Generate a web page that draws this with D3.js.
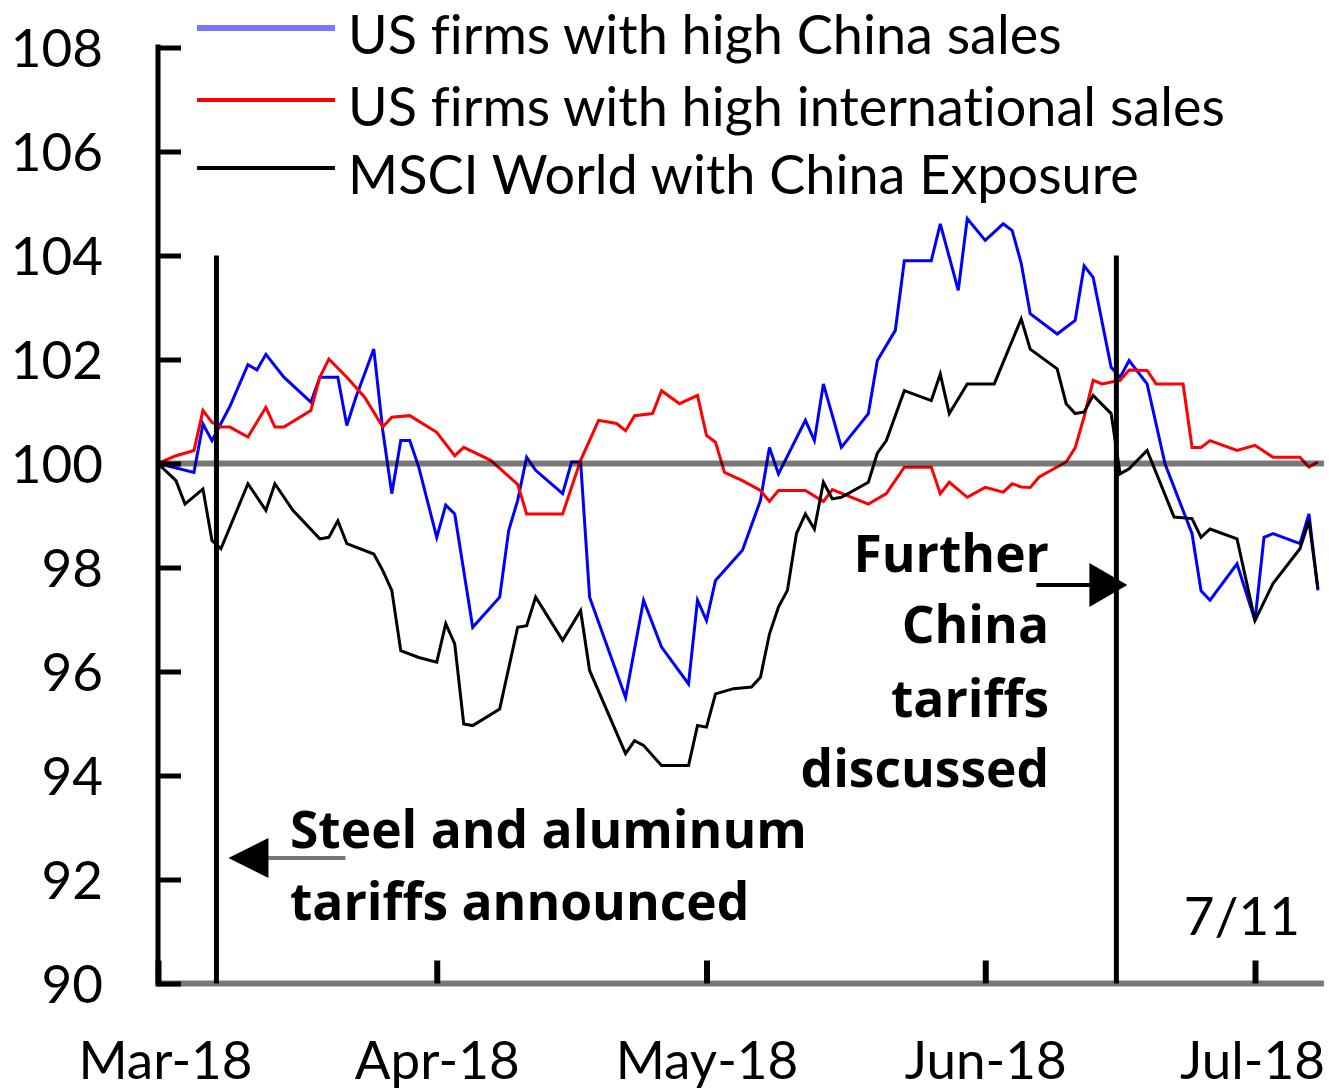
<!DOCTYPE html>
<html>
<head>
<meta charset="utf-8">
<script src="https://cdnjs.cloudflare.com/ajax/libs/d3/7.8.5/d3.min.js"></script>
<style>
  body { margin: 0; background: #fff; }
  svg { display: block; }
  text { font-family: Lato, "Open Sans", sans-serif; fill: #000; font-variant-ligatures: none; }
</style>
</head>
<body>
<svg id="chart" width="1329" height="1092"></svg>
<script>
// series: [date, index level]
var chinaSales = [
  ["2018-03-01",100.0],["2018-03-05",99.83],["2018-03-06",100.76],["2018-03-07",100.44],
  ["2018-03-09",101.1],["2018-03-11",101.9],["2018-03-12",101.8],["2018-03-13",102.1],
  ["2018-03-15",101.66],["2018-03-18",101.18],["2018-03-19",101.66],["2018-03-21",101.66],
  ["2018-03-22",100.73],["2018-03-23",101.27],["2018-03-25",102.2],["2018-03-26",100.63],
  ["2018-03-27",99.42],["2018-03-28",100.44],["2018-03-29",100.44],["2018-03-30",99.93],
  ["2018-04-01",98.58],["2018-04-02",99.2],["2018-04-03",99.03],["2018-04-05",96.85],
  ["2018-04-08",97.43],["2018-04-09",98.71],["2018-04-10",99.29],["2018-04-11",100.12],
  ["2018-04-12",99.87],["2018-04-15",99.42],["2018-04-16",100.03],["2018-04-17",100.03],
  ["2018-04-18",97.43],["2018-04-22",95.5],["2018-04-24",97.37],["2018-04-26",96.47],
  ["2018-04-29",95.76],["2018-04-30",97.37],["2018-05-01",96.98],["2018-05-02",97.75],
  ["2018-05-05",98.33],["2018-05-07",99.29],["2018-05-08",100.31],["2018-05-09",99.8],
  ["2018-05-12",100.83],["2018-05-13",100.44],["2018-05-14",101.53],["2018-05-16",100.31],
  ["2018-05-19",100.96],["2018-05-20",101.98],["2018-05-22",102.56],["2018-05-23",103.9],
  ["2018-05-26",103.9],["2018-05-27",104.61],["2018-05-29",103.33],["2018-05-30",104.71],
  ["2018-06-01",104.29],["2018-06-03",104.61],["2018-06-04",104.48],["2018-06-05",103.85],
  ["2018-06-06",102.88],["2018-06-09",102.49],["2018-06-11",102.75],["2018-06-12",103.8],
  ["2018-06-13",103.58],["2018-06-15",101.85],["2018-06-16",101.66],["2018-06-17",101.98],
  ["2018-06-19",101.53],["2018-06-21",99.99],["2018-06-24",98.65],["2018-06-25",97.55],
  ["2018-06-26",97.37],["2018-06-29",98.07],["2018-07-01",96.98],["2018-07-02",98.58],
  ["2018-07-03",98.65],["2018-07-06",98.46],["2018-07-07",99.03],["2018-07-08",97.56]
];
var intlSales = [
  ["2018-03-01",100.0],["2018-03-03",100.15],["2018-03-05",100.25],["2018-03-06",101.02],
  ["2018-03-07",100.79],["2018-03-08",100.7],["2018-03-09",100.7],["2018-03-11",100.51],
  ["2018-03-13",101.08],["2018-03-14",100.7],["2018-03-15",100.7],["2018-03-18",101.02],
  ["2018-03-19",101.66],["2018-03-20",102.01],["2018-03-22",101.66],["2018-03-24",101.27],
  ["2018-03-26",100.7],["2018-03-27",100.89],["2018-03-29",100.92],["2018-04-01",100.6],
  ["2018-04-03",100.15],["2018-04-04",100.31],["2018-04-07",100.06],["2018-04-10",99.6],
  ["2018-04-11",99.03],["2018-04-15",99.03],["2018-04-17",100.06],["2018-04-19",100.83],
  ["2018-04-21",100.77],["2018-04-22",100.63],["2018-04-23",100.92],["2018-04-25",100.96],
  ["2018-04-26",101.4],["2018-04-28",101.15],["2018-04-30",101.31],["2018-05-01",100.54],
  ["2018-05-02",100.41],["2018-05-03",99.83],["2018-05-05",99.67],["2018-05-07",99.48],
  ["2018-05-08",99.27],["2018-05-09",99.48],["2018-05-12",99.48],["2018-05-14",99.27],
  ["2018-05-15",99.5],["2018-05-19",99.22],["2018-05-21",99.42],["2018-05-23",99.93],
  ["2018-05-26",99.93],["2018-05-27",99.42],["2018-05-28",99.64],["2018-05-30",99.35],
  ["2018-06-01",99.54],["2018-06-03",99.45],["2018-06-04",99.61],["2018-06-05",99.55],
  ["2018-06-06",99.54],["2018-06-07",99.74],["2018-06-10",100.03],["2018-06-11",100.3],
  ["2018-06-12",100.9],["2018-06-13",101.6],["2018-06-14",101.53],["2018-06-16",101.6],
  ["2018-06-17",101.8],["2018-06-19",101.79],["2018-06-20",101.53],["2018-06-23",101.53],
  ["2018-06-24",100.31],["2018-06-25",100.31],["2018-06-26",100.44],["2018-06-29",100.25],
  ["2018-07-01",100.35],["2018-07-03",100.12],["2018-07-06",100.12],["2018-07-07",99.93],
  ["2018-07-08",100.03]
];
var msciChina = [
  ["2018-03-01",100.0],["2018-03-03",99.67],["2018-03-04",99.22],["2018-03-06",99.51],
  ["2018-03-07",98.52],["2018-03-08",98.36],["2018-03-11",99.61],["2018-03-13",99.1],
  ["2018-03-14",99.61],["2018-03-16",99.1],["2018-03-19",98.55],["2018-03-20",98.58],
  ["2018-03-21",98.9],["2018-03-22",98.46],["2018-03-25",98.26],["2018-03-26",97.94],
  ["2018-03-27",97.56],["2018-03-28",96.4],["2018-03-30",96.27],["2018-04-01",96.18],
  ["2018-04-02",96.92],["2018-04-03",96.53],["2018-04-04",94.99],["2018-04-05",94.96],
  ["2018-04-08",95.28],["2018-04-10",96.85],["2018-04-11",96.88],["2018-04-12",97.43],
  ["2018-04-15",96.6],["2018-04-17",97.17],["2018-04-18",96.02],["2018-04-22",94.42],
  ["2018-04-23",94.67],["2018-04-24",94.58],["2018-04-26",94.19],["2018-04-29",94.19],
  ["2018-04-30",94.96],["2018-05-01",94.93],["2018-05-02",95.57],["2018-05-04",95.67],
  ["2018-05-06",95.7],["2018-05-07",95.89],["2018-05-08",96.72],["2018-05-09",97.24],
  ["2018-05-10",97.56],["2018-05-11",98.65],["2018-05-12",99.03],["2018-05-13",98.74],
  ["2018-05-14",99.64],["2018-05-15",99.32],["2018-05-16",99.35],["2018-05-19",99.64],
  ["2018-05-20",100.2],["2018-05-21",100.44],["2018-05-23",101.4],["2018-05-26",101.21],
  ["2018-05-27",101.72],["2018-05-28",100.96],["2018-05-30",101.53],["2018-06-02",101.53],
  ["2018-06-05",102.78],["2018-06-06",102.2],["2018-06-09",101.82],["2018-06-10",101.15],
  ["2018-06-11",100.96],["2018-06-12",100.99],["2018-06-13",101.31],["2018-06-15",100.96],
  ["2018-06-16",99.8],["2018-06-17",99.9],["2018-06-19",100.25],["2018-06-22",98.97],
  ["2018-06-24",98.94],["2018-06-25",98.58],["2018-06-26",98.74],["2018-06-29",98.55],
  ["2018-07-01",96.98],["2018-07-03",97.69],["2018-07-06",98.36],["2018-07-07",98.9],
  ["2018-07-08",97.59]
];

var seriesNames = ["US firms with high China sales", "US firms with high international sales", "MSCI World with China Exposure"];
var seriesColors = ["#0000ff", "#ff0000", "#000000"];
var yTicks = [90, 92, 94, 96, 98, 100, 102, 104, 106, 108];
var monthTicks = ["2018-03-01", "2018-04-01", "2018-05-01", "2018-06-01", "2018-07-01"];
var eventDates = ["2018-03-07T12:00", "2018-06-15T14:00"];

var parse = d3.isoParse;
var svg = d3.select("#chart");

var x = d3.scaleTime()
    .domain([parse("2018-03-01"), parse("2018-07-01")])
    .range([158, 1255]);
var xEnd = x(parse("2018-07-08T16:00"));

var y = d3.scaleLinear()
    .domain([90, 108])
    .range([983.5, 47.5]);

var line = d3.line()
    .x(function(d) { return x(parse(d[0])) })
    .y(function(d) { return y(d[1]) });

// the three series
var series = [chinaSales, intlSales, msciChina];
svg.append("g").selectAll("path")
    .data(series)
    .enter().append("path")
    .attr("d", line)
    .attr("fill", "none")
    .attr("stroke", function(d, i) { return seriesColors[i] })
    .attr("stroke-width", 3)
    .attr("stroke-linejoin", "miter");

// 100 reference line, drawn translucent on top like the original
svg.append("line")
    .attr("x1", x.range()[0]).attr("x2", xEnd)
    .attr("y1", y(100)).attr("y2", y(100))
    .attr("stroke", "#000").attr("stroke-opacity", 0.53).attr("stroke-width", 6);

// bottom axis line (grey)
svg.append("line")
    .attr("x1", x.range()[0]).attr("x2", xEnd)
    .attr("y1", y(90)).attr("y2", y(90))
    .attr("stroke", "#000").attr("stroke-opacity", 0.53).attr("stroke-width", 6);

// event lines
svg.append("g").selectAll("line")
    .data(eventDates)
    .enter().append("line")
    .attr("x1", function(d) { return x(parse(d)) })
    .attr("x2", function(d) { return x(parse(d)) })
    .attr("y1", y(104)).attr("y2", y(90))
    .attr("stroke", "#000").attr("stroke-width", 5);

// y axis, ticks pointing inward
var yAxis = svg.append("g")
    .attr("transform", "translate(" + x.range()[0] + ",0)")
    .call(d3.axisLeft(y).tickValues(yTicks).tickSize(-23).tickSizeOuter(0).tickPadding(55).tickFormat(d3.format("d")));
yAxis.select(".domain").attr("stroke", "#000").attr("stroke-width", 5)
    .attr("d", "M0," + (y(108) - 3) + "V" + (y(90) + 3));
yAxis.selectAll(".tick line").attr("stroke", "#000").attr("stroke-width", 5);
yAxis.selectAll(".tick text")
    .attr("font-size", 53).attr("dy", "0.36em").attr("fill", "#000");

// x axis, month ticks pointing up
var xAxis = svg.append("g")
    .attr("transform", "translate(0," + y(90) + ")")
    .call(d3.axisBottom(x).tickValues(monthTicks.map(parse)).tickSize(-23).tickSizeOuter(0).tickPadding(58).tickFormat(d3.timeFormat("%b-%y")));
xAxis.select(".domain").remove();
xAxis.selectAll(".tick line").attr("stroke", "#000").attr("stroke-width", 6);
xAxis.selectAll(".tick text")
    .attr("font-size", 53).attr("fill", "#000");
xAxis.selectAll(".tick text").filter(function(d, i) { return i == 0 }).attr("dx", 7);
xAxis.selectAll(".tick text").filter(function(d, i) { return i == monthTicks.length - 1 }).attr("dx", -3);

// legend
var legend = svg.append("g").attr("transform", "translate(197,0)");
var legRows = [28, 100, 168];
seriesNames.forEach(function(name, i) {
    legend.append("line")
        .attr("x1", 0).attr("x2", 138)
        .attr("y1", legRows[i]).attr("y2", legRows[i])
        .attr("stroke", i == 0 ? "#7878ff" : seriesColors[i])
        .attr("stroke-width", i == 0 ? 6 : 4);
    legend.append("text")
        .attr("x", 151).attr("y", legRows[i] + 26)
        .attr("font-size", 54)
        .text(name);
});

// annotations
var steelX = x(parse(eventDates[0])), furtherX = x(parse(eventDates[1]));
var steel = svg.append("g");
steel.append("line").attr("x1", steelX + 50).attr("x2", steelX + 129)
    .attr("y1", 858).attr("y2", 858).attr("stroke", "#777").attr("stroke-width", 4);
steel.append("path").attr("d", "M" + (steelX + 12) + ",858L" + (steelX + 52) + ",838V878Z").attr("fill", "#000");
steel.selectAll("text").data(["Steel and aluminum", "tariffs announced"]).enter().append("text")
    .attr("x", 290).attr("y", function(d, i) { return 848 + i * 72 })
    .attr("font-size", 51.5).attr("font-weight", "bold").style("font-family", "'Open Sans', sans-serif")
    .text(function(d) { return d });

var further = svg.append("g");
further.append("line").attr("x1", furtherX - 80).attr("x2", furtherX - 25)
    .attr("y1", 585).attr("y2", 585).attr("stroke", "#000").attr("stroke-width", 4);
further.append("path").attr("d", "M" + (furtherX + 11) + ",585L" + (furtherX - 27) + ",563V607Z").attr("fill", "#000");
further.selectAll("text").data(["Further", "China", "tariffs", "discussed"]).enter().append("text")
    .attr("x", 1049).attr("y", function(d, i) { return [572, 643, 717, 787][i] })
    .attr("text-anchor", "end")
    .attr("font-size", 51.5).attr("font-weight", "bold").style("font-family", "'Open Sans', sans-serif")
    .text(function(d) { return d });

svg.append("text").attr("x", 1300).attr("y", 935).attr("text-anchor", "end")
    .attr("font-size", 53).text("7/11");
</script>
</body>
</html>
